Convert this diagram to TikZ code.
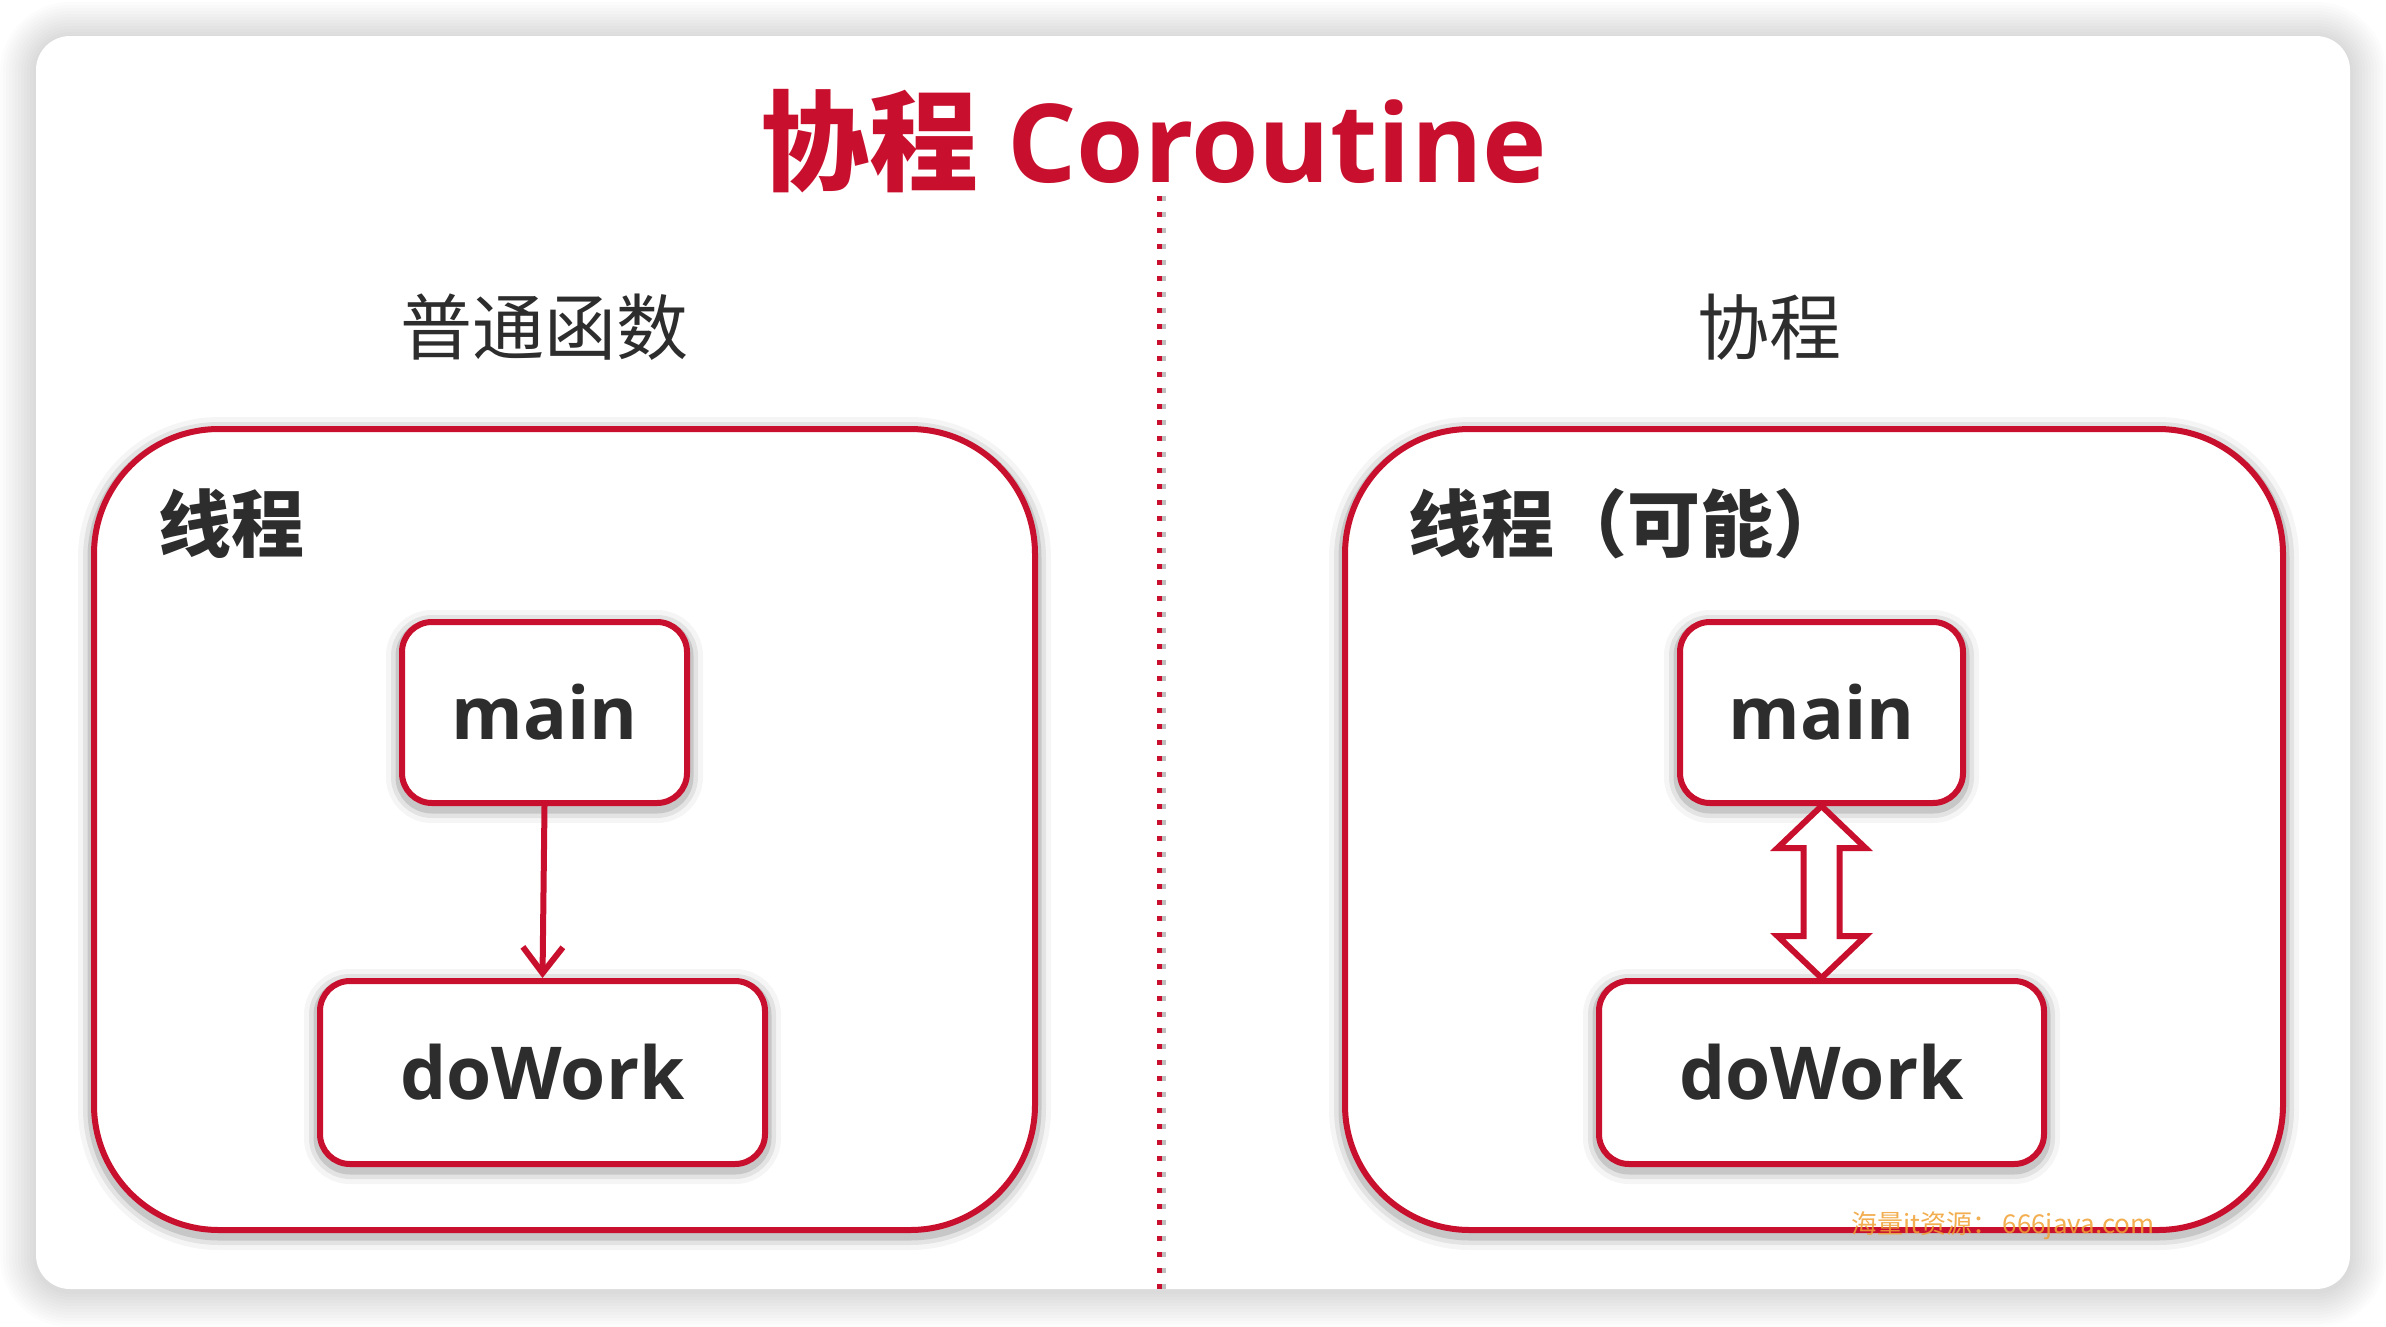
\documentclass[tikz,border=0pt]{standalone}
\usepackage{fontspec}
\usetikzlibrary{arrows.meta,calc}
\newfontfamily\cjk{Noto Sans CJK SC}
\newfontfamily\lat{Open Sans}
\definecolor{cred}{RGB}{200,16,46}
\definecolor{ctext}{RGB}{45,45,45}
\definecolor{cwm}{RGB}{240,160,50}
\begin{document}
\begin{tikzpicture}[x=1pt,y=-1pt,
  softshadow/.style={
    preaction={draw=black,opacity=0.04,line width=32pt,transform canvas={yshift=-4pt}},
    preaction={draw=black,opacity=0.07,line width=22pt,transform canvas={yshift=-4pt}},
    preaction={draw=black,opacity=0.12,line width=13pt,transform canvas={yshift=-4pt}}},
  bigbox/.style={softshadow,draw=cred,fill=white,line width=6pt,rounded corners=125pt,inner sep=0pt},
  smallbox/.style={softshadow,draw=cred,fill=white,line width=6pt,rounded corners=30pt,inner sep=0pt,
    font=\lat\bfseries\fontsize{73}{80}\selectfont,text=ctext},
  heading/.style={inner sep=0pt,font=\cjk\fontsize{72}{80}\selectfont,text=ctext},
  boxlabel/.style={inner sep=0pt,anchor=west,font=\cjk\bfseries\fontsize{73}{80}\selectfont,text=ctext},
  connector/.style={draw=cred,line width=6pt},
]
\useasboundingbox (0,0) rectangle (2386,1326);
\fill[white] (0,0) rectangle (2386,1326);
% card shadow
\foreach \k in {1,...,12}{
  \pgfmathsetmacro\rr{34+3*\k}
  \fill[black,opacity=0.012,rounded corners=\rr pt] (36-3*\k,38-3*\k) rectangle (2350+3*\k,1291+3*\k);
}
\fill[white,rounded corners=34pt] (36,36) rectangle (2350,1289);

% title
\node[inner sep=0pt,text=cred,font=\lat\bfseries\fontsize{109}{115}\selectfont] (title) at (1154,141)
  {{\cjk\bfseries 协程} Coroutine};

% divider
\coordinate (dtop) at (1159,196);
\coordinate (dbot) at (1159,1289);
\draw[black!25,line width=5pt,dash pattern=on 5pt off 11pt,transform canvas={xshift=4pt}] (dtop) -- (dbot);
\draw[cred,line width=5pt,dash pattern=on 5pt off 11pt] (dtop) -- (dbot);

% headings
\node[heading] (hl) at (544,327) {普通函数};
\node[heading] (hr) at (1769,327) {协程};

% big boxes
\node[bigbox,minimum width=941pt,minimum height=801pt] (lbig) at (564.5,829.5) {};
\node[bigbox,minimum width=938pt,minimum height=801pt] (rbig) at (1814,829.5) {};
\node[boxlabel] (llab) at (158,524) {线程};
\node[boxlabel] (rlab) at (1408,524) {线程（可能）};

% small boxes
\node[smallbox,minimum width=285pt,minimum height=181pt] (lmain) at (544.5,712.5) {main};
\node[smallbox,minimum width=445pt,minimum height=183pt] (ldo) at (542.5,1072.5) {doWork};
\node[smallbox,minimum width=283pt,minimum height=181pt] (rmain) at (1821.5,712.5) {main};
\node[smallbox,minimum width=445pt,minimum height=183pt] (rdo) at (1821.5,1072.5) {doWork};

% connectors
\draw[connector,-{Straight Barb[length=26pt,width=40pt]}] (lmain.south) -- (ldo.north);
\draw[connector,fill=white,line join=miter]
  (rmain.south) -- ++(44,42) -- ++(-26,0) -- ($(rdo.north)+(18,-42)$) -- ++(26,0)
  -- (rdo.north) -- ++(-44,-42) -- ++(26,0) -- ($(rmain.south)+(-18,42)$) -- ++(-26,0) -- cycle;

% watermark
\node[inner sep=0pt,text=cwm,opacity=0.85,font=\cjk\fontsize{26}{28}\selectfont] (wm) at (2003,1226)
  {海量it资源：\,666java.com};
\end{tikzpicture}
\end{document}
